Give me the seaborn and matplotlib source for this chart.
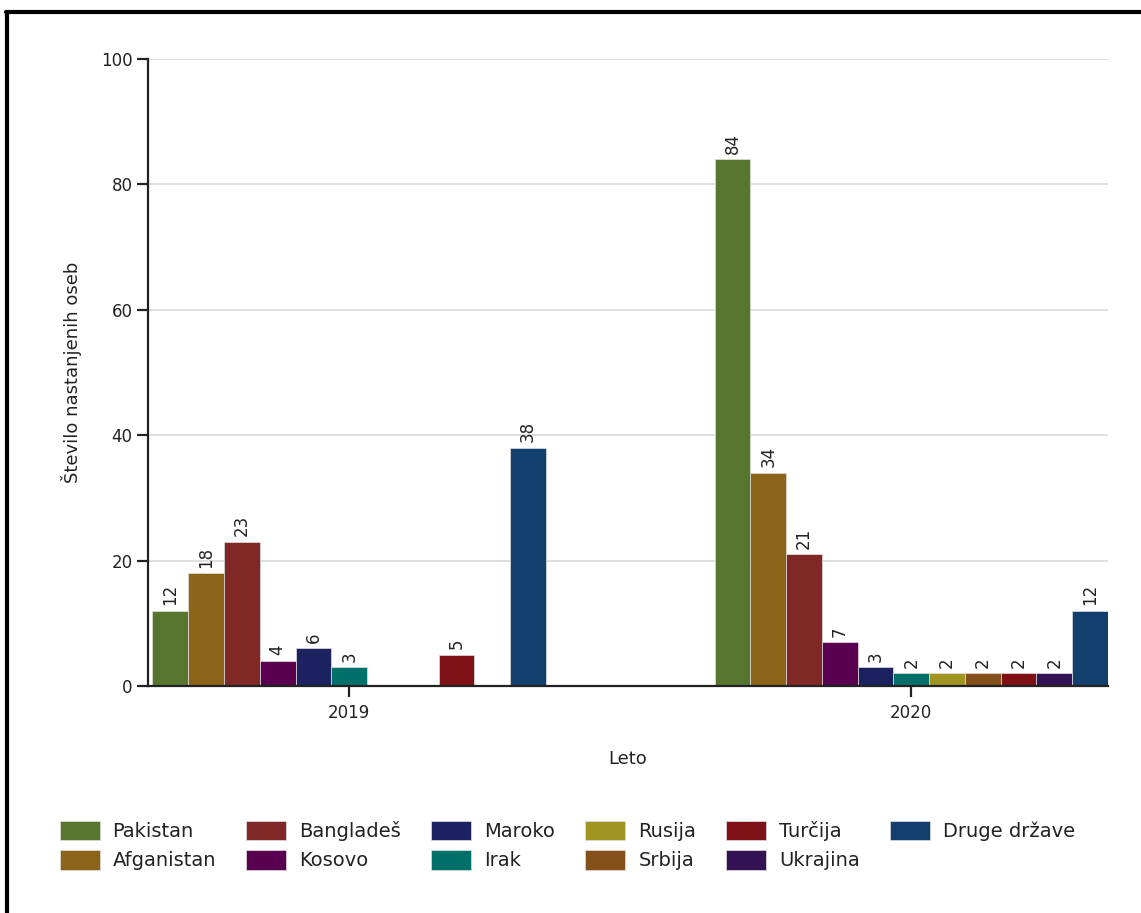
import pandas as pd
import numpy as np
import seaborn as sns
import matplotlib.pyplot as plt
from matplotlib.lines import Line2D

# data
years = ["2019", "2020"]
countries = ["Pakistan", "Afganistan", "Bangladeš", "Kosovo", "Maroko", "Irak",
             "Rusija", "Srbija", "Turčija", "Ukrajina", "Druge države"]
values_2019 = [12, 18, 23, 4, 6, 3, np.nan, np.nan, 5, np.nan, 38]
values_2020 = [84, 34, 21, 7, 3, 2, 2, 2, 2, 2, 12]
colors = ["#56762f", "#8b6419", "#7f2826", "#5a0051", "#1c2260", "#00706b",
          "#a09422", "#834f1a", "#7f1016", "#341256", "#133f6f"]

df = pd.DataFrame({
    "Leto": [years[0]] * len(countries) + [years[1]] * len(countries),
    "Država": countries * 2,
    "Število": values_2019 + values_2020,
})

sns.set_style("white")
plt.rcParams['font.family'] = ['DejaVu Sans']

fig = plt.figure(figsize=(11.41, 9.13), dpi=100)
ax = fig.add_axes([148 / 1141, 1 - 686 / 913, 960 / 1141, 627 / 913])

sns.barplot(data=df, x="Leto", y="Število", hue="Država", order=years,
            hue_order=countries, palette=colors, saturation=1, width=0.70, gap=0,
            edgecolor="#e0e0e0", linewidth=0.5, ax=ax, legend=False)

for cont in ax.containers:
    ax.bar_label(cont, fmt="%g", rotation=90, padding=4, fontsize=12, color="#222222")

ax.set_ylim(0, 100)
ax.set_xlim(-0.358, 1.35)
ax.set_yticks([0, 20, 40, 60, 80, 100])
ax.yaxis.grid(True, color="#d9d9d9", linewidth=1.2)
ax.set_axisbelow(True)
for s in ["top", "right"]:
    ax.spines[s].set_visible(False)
for s in ["left", "bottom"]:
    ax.spines[s].set_color("#222222")
    ax.spines[s].set_linewidth(1.6)
ax.tick_params(axis="both", which="both", length=8, width=1.6, color="#222222",
               labelsize=12, labelcolor="#222222", left=True, bottom=True, pad=3)
ax.tick_params(axis="x", pad=5)
ax.set_xlabel("Leto", fontsize=13, labelpad=20, color="#222222")
ax.set_ylabel("Število nastanjenih oseb", fontsize=13, labelpad=14, color="#222222")

# legend below the chart
handles = [plt.Rectangle((0, 0), 1, 1, facecolor=c, edgecolor="#e0e0e0", linewidth=0.5)
           for c in colors]
fig.legend(handles, countries, ncol=6, loc="upper left",
           bbox_to_anchor=(42 / 1141, 1 - 803 / 913), frameon=False,
           fontsize=14, handlelength=2.06, handleheight=1.2, handletextpad=0.67,
           columnspacing=1.55, labelspacing=0.45, labelcolor="#222222")

# frame lines at top and left of the figure
fig.add_artist(Line2D([6 / 1141, 1], [1 - 12 / 913, 1 - 12 / 913],
                      transform=fig.transFigure, color="black", linewidth=3))
fig.add_artist(Line2D([7 / 1141, 7 / 1141], [0, 1 - 12 / 913],
                      transform=fig.transFigure, color="black", linewidth=3))

fig.savefig("out.png", dpi=100)
